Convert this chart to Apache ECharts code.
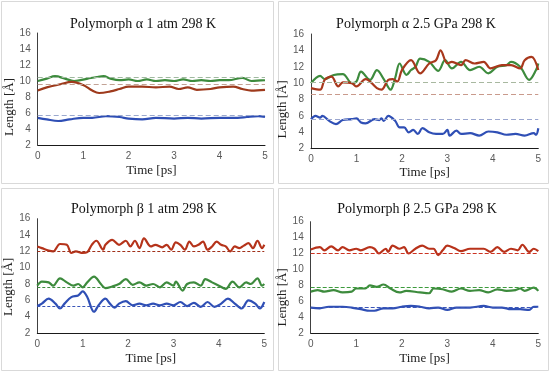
<!DOCTYPE html>
<html><head><meta charset="utf-8">
<script src="https://cdn.jsdelivr.net/npm/echarts@6/dist/echarts.min.js"></script>
<style>html,body{margin:0;padding:0;background:#fff}#c{width:550px;height:372px}</style>
</head><body><div id="c"></div>
<script>
// ---- Data ----
const titles = ['Polymorph α 1 atm 298 K','Polymorph α 2.5 GPa 298 K','Polymorph β 1 atm 298 K','Polymorph β 2.5 GPa 298 K'];
const xTicks = [0,1,2,3,4,5];
const yTicks = [2,4,6,8,10,12,14,16];

// Panel 1: alpha 1 atm
const p1GreenT = [0,0.2,0.38,0.6,0.8,1.1,1.3,1.45,1.6,1.8,2.0,2.2,2.4,2.6,2.8,3.0,3.2,3.4,3.6,3.8,4.0,4.2,4.5,4.7,5.0];
const p1GreenY = [10.0,10.3,10.6,10.3,10.0,10.3,10.5,10.6,10.3,10.1,10.2,10.0,10.2,10.0,10.1,10.0,10.2,10.0,10.1,10.0,10.1,10.1,10.4,10.0,10.1];
const p1RedT = [0,0.2,0.5,0.75,1.0,1.2,1.35,1.6,1.8,2.0,2.3,2.6,2.9,3.1,3.3,3.5,3.8,4.0,4.3,4.5,4.7,5.0];
const p1RedY = [8.8,9.2,9.6,9.9,9.5,8.8,8.5,8.7,9.0,9.3,9.3,9.2,9.3,9.0,9.2,8.9,9.0,9.2,9.3,9.0,8.8,8.9];
const p1BlueT = [0,0.2,0.45,0.7,1.0,1.2,1.5,1.8,2.0,2.3,2.6,3.0,3.3,3.6,4.0,4.4,4.6,4.85,5.0];
const p1BlueY = [5.4,5.2,5.0,5.2,5.4,5.4,5.6,5.5,5.3,5.2,5.4,5.3,5.4,5.3,5.4,5.4,5.5,5.6,5.5];
const p1Refs = [10.5, 9.6, 5.7];

// Panel 2: alpha 2.5 GPa
const p2GreenT = [0,0.2,0.3,0.5,0.7,0.9,1.0,1.1,1.3,1.45,1.6,1.75,1.85,1.95,2.1,2.2,2.3,2.4,2.6,2.8,2.95,3.1,3.3,3.5,3.7,3.9,4.1,4.3,4.4,4.6,4.8,4.95,5.0];
const p2GreenY = [10.0,10.9,10.5,11.0,11.1,10.0,10.2,11.4,10.4,11.6,10.5,9.2,10.6,12.4,11.0,11.6,12.0,13.0,12.6,11.5,12.8,11.8,12.6,11.6,12.0,11.2,12.0,12.2,12.6,12.0,10.4,11.6,12.4];
const p2RedT = [0,0.2,0.3,0.45,0.6,0.7,0.9,1.0,1.2,1.45,1.55,1.7,1.8,1.9,2.0,2.2,2.4,2.6,2.75,2.85,3.0,3.1,3.3,3.4,3.6,3.8,3.95,4.2,4.4,4.6,4.7,4.85,5.0];
const p2RedY = [9.4,9.2,10.4,10.8,9.6,10.1,10.0,9.6,10.5,9.4,9.2,10.4,10.5,10.2,11.6,12.8,11.2,12.4,12.8,14.0,12.4,12.6,12.2,12.8,12.4,12.6,11.8,12.2,12.2,11.8,12.8,13.2,11.6];
const p2BlueT = [0,0.1,0.2,0.25,0.4,0.55,0.7,0.9,1.0,1.1,1.2,1.4,1.5,1.55,1.6,1.7,1.85,1.95,2.05,2.15,2.25,2.35,2.45,2.6,2.75,2.9,3.0,3.05,3.2,3.3,3.5,3.7,3.9,4.1,4.3,4.5,4.7,4.9,4.95,5.0];
const p2BlueY = [5.6,6.0,5.8,6.0,5.4,5.0,5.5,5.6,5.7,5.2,5.1,5.6,5.5,5.7,5.4,6.0,5.4,4.6,4.6,4.0,4.3,3.8,4.5,4.0,3.8,3.8,4.3,3.6,4.2,3.8,3.9,3.6,4.1,4.0,3.7,3.8,3.6,3.9,3.7,4.5];
const p2Refs = [10.1, 8.7, 5.6];

// Panel 3: beta 1 atm
const p3RedT = [0,0.1,0.25,0.35,0.5,0.65,0.75,0.85,1.0,1.1,1.2,1.3,1.45,1.5,1.65,1.8,1.95,2.05,2.15,2.25,2.35,2.5,2.6,2.75,2.85,2.95,3.05,3.15,3.25,3.35,3.45,3.55,3.65,3.75,3.85,3.95,4.05,4.15,4.25,4.35,4.45,4.55,4.65,4.75,4.85,4.95,5.0];
const p3RedY = [12.6,12.4,12.1,12.0,12.9,12.8,11.8,12.0,11.8,11.9,12.8,13.3,12.2,12.8,13.4,12.8,13.3,12.6,13.3,12.4,13.6,12.6,12.8,12.5,12.8,12.2,13.1,12.8,12.2,13.2,12.6,12.8,13.2,12.2,12.6,13.2,12.8,12.6,12.0,12.6,12.4,12.7,13.0,12.4,13.3,12.4,12.8];
const p3GreenT = [0,0.1,0.25,0.35,0.5,0.65,0.8,0.9,1.0,1.1,1.25,1.4,1.5,1.65,1.8,1.95,2.1,2.25,2.4,2.55,2.7,2.85,3.0,3.05,3.2,3.3,3.45,3.6,3.7,3.85,4.0,4.15,4.3,4.45,4.6,4.7,4.85,4.95,5.0];
const p3GreenY = [7.8,8.3,8.2,7.8,8.7,8.2,7.8,8.0,7.6,8.2,8.9,8.0,7.5,7.7,8.0,8.6,7.9,8.2,7.8,8.0,7.6,8.2,7.8,8.3,7.2,8.0,8.2,7.8,8.6,8.2,7.8,7.4,8.3,7.6,8.2,8.0,8.7,7.8,8.0];
const p3BlueT = [0,0.1,0.25,0.4,0.5,0.6,0.75,0.9,1.0,1.1,1.25,1.35,1.5,1.6,1.7,1.8,1.95,2.1,2.25,2.4,2.55,2.7,2.85,3.0,3.15,3.3,3.45,3.6,3.75,3.9,4.05,4.2,4.35,4.5,4.65,4.8,4.9,5.0];
const p3BlueY = [5.3,5.6,6.2,5.6,5.0,5.6,6.4,6.6,7.1,6.4,4.6,5.4,6.2,5.6,5.1,5.6,5.9,5.4,5.6,5.4,5.6,5.4,5.6,5.4,5.8,5.3,5.7,5.2,5.8,5.2,5.6,6.2,5.6,5.0,6.0,5.6,5.0,5.8];
const p3Refs = [7.6, 12.0, 5.3];

// Panel 4: beta 2.5 GPa
const p4RedT = [0,0.2,0.3,0.45,0.6,0.7,0.85,1.0,1.1,1.3,1.4,1.5,1.65,1.7,1.8,1.95,2.05,2.15,2.3,2.45,2.6,2.7,2.8,2.9,3.0,3.15,3.3,3.5,3.8,3.95,4.1,4.25,4.4,4.55,4.65,4.8,4.9,5.0];
const p4RedY = [12.5,12.8,12.4,12.9,12.4,12.8,12.4,12.6,12.4,12.8,12.6,12.0,12.6,12.2,13.0,12.6,12.8,12.0,12.6,13.0,12.6,12.6,11.8,12.4,13.0,12.7,12.3,12.6,12.6,12.2,12.8,12.2,12.6,12.4,13.1,12.2,12.6,12.3];
const p4GreenT = [0,0.15,0.3,0.5,0.7,0.9,1.0,1.2,1.3,1.45,1.6,1.75,1.95,2.1,2.4,2.6,2.7,2.9,3.1,3.3,3.5,3.7,3.9,4.1,4.3,4.5,4.6,4.7,4.9,5.0];
const p4GreenY = [7.2,7.4,7.2,7.4,7.1,7.2,7.6,7.6,8.0,7.8,8.1,7.6,7.1,7.3,7.1,7.0,7.6,7.5,7.2,7.6,7.3,7.4,7.1,7.5,7.3,7.4,7.6,7.3,7.7,7.3];
const p4BlueT = [0,0.2,0.4,0.7,0.9,1.1,1.3,1.4,1.6,1.8,2.0,2.2,2.4,2.6,2.8,3.0,3.2,3.5,3.8,4.0,4.2,4.4,4.6,4.8,4.9,5.0];
const p4BlueY = [5.2,5.1,5.3,5.3,5.2,5.0,4.8,4.8,5.1,5.1,5.3,5.4,5.3,5.1,5.2,4.9,5.2,5.2,5.4,5.2,5.2,5.0,5.0,4.9,5.3,5.3];
const p4Refs = [7.7, 12.0, 5.3];

// ---- Styles / layout ----
const GREEN = '#3d8b3d', BLUE = '#2f4fb5';
const REDS = ['#9e3a1c','#a8381c','#b5331a','#b8321a'];
const panelFrames = [[1,1,272,182],[278,1,270,182],[1,188,272,182],[278,188,270,182]];
const grids = [
  {left:37.7, top:33, width:227.3, height:112},
  {left:311, top:34, width:227.3, height:114.7},
  {left:37.3, top:218.7, width:227, height:114.3},
  {left:310.7, top:221.7, width:227.6, height:111.3}
];
const titlePos = [[138,12],[411,12],[139,197],[412,197]];
const xNameGap = [19,15,19,19];
const yNameShift = [36,36,22,40];
const refColors = [
  ['#9fb99f','#c2a295','#9ba9cf'],
  ['#a8b8a0','#c99a8c','#9aa6cf'],
  ['#3d8b3d','#a0301a','#3a55b8'],
  ['#3d9b3d','#cc3322','#3a55b8']
];
const refDash = [[5,3],[5,3],[3,2],[4,2]];

const panels = [
  {lines:[[p1GreenT,p1GreenY,GREEN],[p1RedT,p1RedY,REDS[0]],[p1BlueT,p1BlueY,BLUE]], refs:p1Refs},
  {lines:[[p2GreenT,p2GreenY,GREEN],[p2RedT,p2RedY,REDS[1]],[p2BlueT,p2BlueY,BLUE]], refs:p2Refs},
  {lines:[[p3GreenT,p3GreenY,GREEN],[p3RedT,p3RedY,REDS[2]],[p3BlueT,p3BlueY,BLUE]], refs:p3Refs},
  {lines:[[p4GreenT,p4GreenY,GREEN],[p4RedT,p4RedY,REDS[3]],[p4BlueT,p4BlueY,BLUE]], refs:p4Refs}
];

const chart = echarts.init(document.getElementById('c'), null, {renderer:'canvas'});
const serifFont = '"Liberation Serif", "DejaVu Serif", serif';
const sansFont = '"Liberation Sans", Arial, sans-serif';

const option = {
  animation:false,
  backgroundColor:'#fff',
  title: titles.map((t,i)=>({text:t, left:titlePos[i][0], top:titlePos[i][1], textAlign:'center',
    textStyle:{fontFamily:serifFont, fontSize:14, fontWeight:'normal', color:'#111'}})),
  graphic: panelFrames.map(f=>({type:'rect', shape:{x:f[0]+0.5,y:f[1]+0.5,width:f[2],height:f[3]}, silent:true, z:-1,
    style:{fill:'none', stroke:'#d9d9d9', lineWidth:1}})),
  grid: grids.map(g=>Object.assign({containLabel:false}, g)),
  xAxis: grids.map((g,i)=>({type:'value', gridIndex:i, min:xTicks[0], max:xTicks[xTicks.length-1], interval:1,
    name:'Time [ps]', nameLocation:'middle', nameGap:xNameGap[i],
    nameTextStyle:{fontFamily:serifFont, fontSize:13, color:'#222'},
    axisLine:{show:true, onZero:false, lineStyle:{color:'#1a1a1a', width:1}},
    axisTick:{show:false}, splitLine:{show:false},
    axisLabel:{fontFamily:sansFont, fontSize:10, color:'#595959', margin:6}})),
  yAxis: grids.map((g,i)=>({type:'value', gridIndex:i, min:yTicks[0], max:yTicks[yTicks.length-1], interval:2,
    name:'Length [Å]', nameLocation:'middle', nameGap:18, nameRotate:90,
    nameTextStyle:{fontFamily:serifFont, fontSize:13, color:'#222', padding:[0,yNameShift[i],0,0]},
    axisLine:{show:true, lineStyle:{color:'#404040', width:1}},
    axisTick:{show:false}, splitLine:{show:false},
    axisLabel:{fontFamily:sansFont, fontSize:10, color:'#595959', margin:7}})),
  series: []
};

panels.forEach((p,i)=>{
  p.lines.forEach((ln,k)=>{
    option.series.push({
      type:'line', xAxisIndex:i, yAxisIndex:i, showSymbol:false, symbol:'none', smooth:0.35,
      data: ln[0].map((t,j)=>[t, ln[1][j]]),
      lineStyle:{color:ln[2], width:2.2}, z:3,
      markLine:{symbol:'none', silent:true, label:{show:false}, animation:false,
        lineStyle:{type:refDash[i], color:refColors[i][k], width:1},
        data:[{yAxis: p.refs[k]}]}
    });
  });
});
chart.setOption(option);
</script></body></html>
